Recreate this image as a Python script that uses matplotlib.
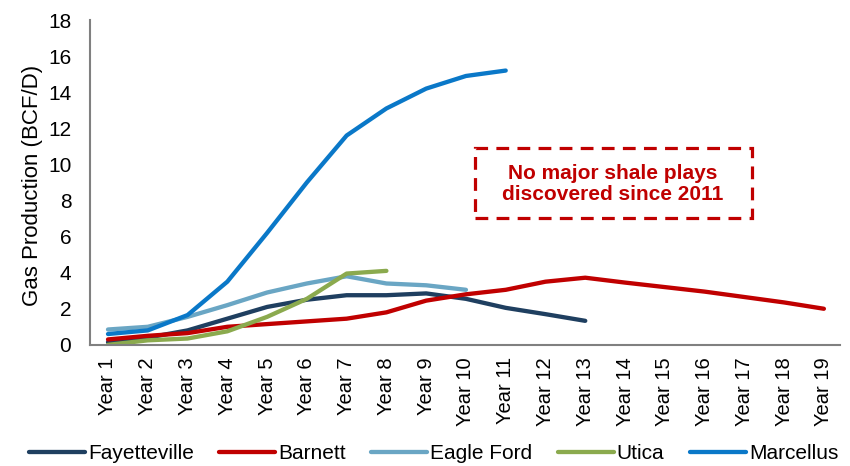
import matplotlib
matplotlib.use('Agg')
from matplotlib import pyplot as plt
from matplotlib.patches import Rectangle

plt.rcParams['font.family'] = ['Liberation Sans', 'DejaVu Sans']

years = ['Year %d' % i for i in range(1, 20)]
fayetteville = [0.15, 0.4, 0.8, 1.45, 2.1, 2.5, 2.75, 2.75, 2.85, 2.55, 2.05, 1.7, 1.33]
barnett = [0.3, 0.5, 0.65, 1.0, 1.15, 1.3, 1.45, 1.8, 2.45, 2.8, 3.05, 3.5, 3.72, 3.45,
           3.2, 2.95, 2.65, 2.35, 2.0]
eagle_ford = [0.85, 1.0, 1.55, 2.2, 2.9, 3.4, 3.8, 3.4, 3.3, 3.05]
utica = [0.0, 0.25, 0.35, 0.75, 1.55, 2.55, 3.95, 4.1]
marcellus = [0.6, 0.8, 1.65, 3.5, 6.2, 9.0, 11.6, 13.1, 14.2, 14.9, 15.2]

series = [('Fayetteville', fayetteville, '#1F3F60'),
          ('Barnett', barnett, '#C00000'),
          ('Eagle Ford', eagle_ford, '#6AA6C4'),
          ('Utica', utica, '#8BAA4E'),
          ('Marcellus', marcellus, '#0A78C8')]

fig = plt.figure(figsize=(8.5, 4.66), dpi=100)
ax = fig.add_axes([0.106, 0.26, 0.882, 0.697])

for name, vals, col in series:
    ax.plot(range(len(vals)), vals, color=col, lw=3.1, label=name, solid_capstyle='round')

ax.set_xlim(-0.45, 18.4)
ax.set_ylim(0, 18)
ax.set_yticks(range(0, 19, 2))
ax.set_xticks(range(len(years)))
ax.set_xticklabels(years, rotation=90, fontsize=14.5)
ax.tick_params(axis='y', labelsize=15, length=0, pad=13.5)
ax.tick_params(axis='x', length=0, pad=9)
ax.set_ylabel('Gas Production (BCF/D)', fontsize=16)
ax.yaxis.set_label_coords(-0.063, 0.49)
for s in ['top', 'right']:
    ax.spines[s].set_visible(False)
for s in ['left', 'bottom']:
    ax.spines[s].set_color('#808080')
    ax.spines[s].set_linewidth(1.5)

# dashed callout box
ax.add_patch(Rectangle((9.22, 7.03), 6.96, 3.87, fill=False, ec='#C00000', lw=2.3,
                       ls=(0, (4, 2.6)), zorder=5))
ax.text(12.7, 8.9, 'No major shale plays\ndiscovered since 2011', color='#C00000',
        fontsize=15, fontweight='bold', ha='center', va='center', linespacing=1.15,
        zorder=6)

fig.legend(*ax.get_legend_handles_labels(), loc='center', bbox_to_anchor=(0.51, 0.026),
           ncol=5, frameon=False, fontsize=15, handlelength=2.7, handletextpad=0.15,
           columnspacing=1.2, borderpad=0)

fig.savefig('out.png', dpi=100)
